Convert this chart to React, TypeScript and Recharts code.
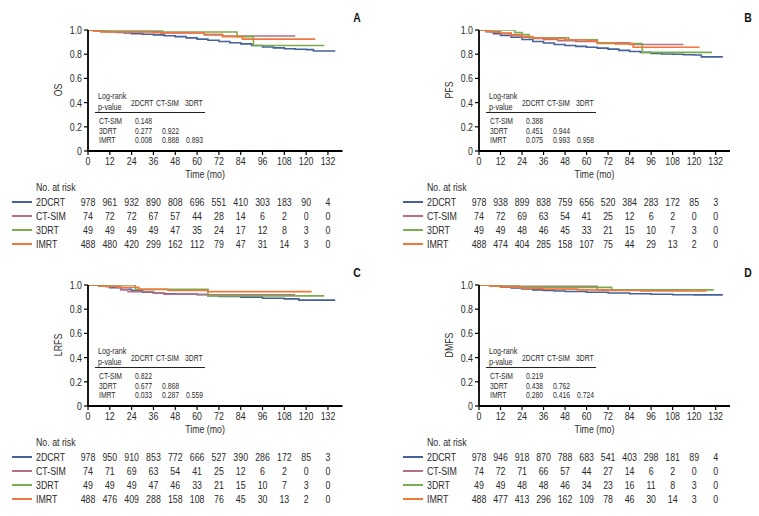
import React from 'react';
import { LineChart, Line, XAxis, YAxis } from 'recharts';

const TICKS_X = [0, 12, 24, 36, 48, 60, 72, 84, 96, 108, 120, 132];
const TICKS_Y = [0, 0.2, 0.4, 0.6, 0.8, 1.0];
const GROUPS = ['2DCRT', 'CT-SIM', '3DRT', 'IMRT'];
const COLORS = ['#46609a', '#b8707f', '#7aad4e', '#f2773c'];
const PV_HEAD = ['2DCRT', 'CT-SIM', '3DRT'];
const PV_ROWS = ['CT-SIM', '3DRT', 'IMRT'];

type P = [number, number][];

// ---- OS ----
const OS_2DCRT: P = [[0,1],[4,0.995],[8,0.99],[12,0.985],[16,0.98],[20,0.975],[24,0.97],[30,0.965],[36,0.96],[42,0.953],[48,0.945],[54,0.935],[60,0.925],[66,0.915],[72,0.905],[78,0.895],[84,0.885],[90,0.872],[96,0.86],[102,0.852],[108,0.845],[114,0.841],[120,0.838],[124,0.826],[136,0.826]];
const OS_CTSIM: P = [[0,1],[8,0.985],[40,0.975],[64,0.96],[74,0.95],[114,0.95]];
const OS_3DRT: P = [[0,1],[41,0.983],[82,0.945],[91,0.872],[130,0.872]];
const OS_IMRT: P = [[0,1],[3,0.99],[7,0.983],[36,0.977],[64,0.965],[74,0.945],[85,0.925],[125,0.925]];
const OS_RISK = [
  [978, 961, 932, 890, 808, 696, 551, 410, 303, 183, 90, 4],
  [74, 72, 72, 67, 57, 44, 28, 14, 6, 2, 0, 0],
  [49, 49, 49, 49, 47, 35, 24, 17, 12, 8, 3, 0],
  [488, 480, 420, 299, 162, 112, 79, 47, 31, 14, 3, 0],
];
const OS_P = [['0.148'], ['0.277', '0.922'], ['0.008', '0.888', '0.893']];

// ---- PFS ----
const PFS_2DCRT: P = [[0,1],[4,0.985],[8,0.97],[12,0.955],[18,0.94],[24,0.922],[30,0.905],[36,0.892],[42,0.88],[48,0.872],[54,0.865],[60,0.857],[66,0.85],[72,0.842],[78,0.832],[84,0.822],[90,0.815],[96,0.807],[102,0.802],[108,0.799],[114,0.796],[120,0.793],[124,0.778],[136,0.778]];
const PFS_CTSIM: P = [[0,1],[6,0.985],[12,0.97],[18,0.955],[24,0.94],[30,0.93],[36,0.922],[44,0.912],[54,0.905],[66,0.895],[84,0.88],[114,0.88]];
const PFS_3DRT: P = [[0,1],[20,0.978],[24,0.962],[28,0.936],[50,0.92],[66,0.888],[91,0.815],[130,0.815]];
const PFS_IMRT: P = [[0,1],[4,0.99],[8,0.982],[12,0.975],[18,0.96],[24,0.945],[30,0.935],[36,0.93],[48,0.92],[60,0.91],[66,0.895],[76,0.885],[86,0.858],[123,0.858]];
const PFS_RISK = [
  [978, 938, 899, 838, 759, 656, 520, 384, 283, 172, 85, 3],
  [74, 72, 69, 63, 54, 41, 25, 12, 6, 2, 0, 0],
  [49, 49, 48, 46, 45, 33, 21, 15, 10, 7, 3, 0],
  [488, 474, 404, 285, 158, 107, 75, 44, 29, 13, 2, 0],
];
const PFS_P = [['0.388'], ['0.451', '0.944'], ['0.075', '0.993', '0.958']];

// ---- LRFS ----
const LRFS_2DCRT: P = [[0,1],[6,0.99],[12,0.977],[18,0.965],[24,0.955],[30,0.94],[36,0.935],[42,0.928],[48,0.925],[60,0.92],[66,0.912],[72,0.905],[84,0.9],[96,0.89],[108,0.885],[116,0.875],[136,0.875]];
const LRFS_CTSIM: P = [[0,1],[10,0.985],[18,0.96],[22,0.945],[36,0.935],[42,0.923],[66,0.918],[114,0.918]];
const LRFS_3DRT: P = [[0,1],[26,0.964],[66,0.91],[130,0.91]];
const LRFS_IMRT: P = [[0,1],[6,0.99],[16,0.982],[28,0.965],[44,0.955],[66,0.945],[123,0.945]];
const LRFS_RISK = [
  [978, 950, 910, 853, 772, 666, 527, 390, 286, 172, 85, 3],
  [74, 71, 69, 63, 54, 41, 25, 12, 6, 2, 0, 0],
  [49, 49, 49, 47, 46, 33, 21, 15, 10, 7, 3, 0],
  [488, 476, 409, 288, 158, 108, 76, 45, 30, 13, 2, 0],
];
const LRFS_P = [['0.822'], ['0.677', '0.868'], ['0.033', '0.287', '0.559']];

// ---- DMFS ----
const DMFS_2DCRT: P = [[0,1],[6,0.99],[12,0.983],[18,0.975],[24,0.967],[30,0.96],[36,0.955],[42,0.95],[48,0.946],[60,0.94],[72,0.934],[84,0.928],[96,0.923],[108,0.92],[120,0.918],[136,0.918]];
const DMFS_CTSIM: P = [[0,1],[12,0.99],[66,0.958],[114,0.958]];
const DMFS_3DRT: P = [[0,1],[22,0.98],[74,0.96],[131,0.96]];
const DMFS_IMRT: P = [[0,1],[6,0.99],[12,0.983],[24,0.972],[36,0.966],[55,0.96],[72,0.955],[90,0.95],[127,0.95]];
const DMFS_RISK = [
  [978, 946, 918, 870, 788, 683, 541, 403, 298, 181, 89, 4],
  [74, 72, 71, 66, 57, 44, 27, 14, 6, 2, 0, 0],
  [49, 49, 48, 48, 46, 34, 23, 16, 11, 8, 3, 0],
  [488, 477, 413, 296, 162, 109, 78, 46, 30, 14, 3, 0],
];
const DMFS_P = [['0.219'], ['0.438', '0.762'], ['0.280', '0.416', '0.724']];

const FONT = "'Liberation Sans', Arial, sans-serif";
const TXT = '#2b2b2b';
const SX = 0.8;

const toRows = (p: P) => p.map(([t, s]) => ({ t, s }));

function T(props: any) {
  const { x, y, size = 11, anchor = 'start', fill = TXT, weight, children } = props;
  return (
    <text
      transform={`translate(${x},${y}) scale(${SX},1)`}
      x={0}
      y={0}
      fontSize={size}
      textAnchor={anchor}
      fill={fill}
      fontWeight={weight}
      fontFamily={FONT}
    >
      {children}
    </text>
  );
}

function RiskTick(props: any) {
  const { x, y, payload, risk } = props;
  const i = TICKS_X.indexOf(payload.value);
  const axisY = y - 6;
  return (
    <g>
      <T x={x} y={axisY + 14} anchor="middle">{payload.value}</T>
      {risk.map((row: number[], r: number) => (
        <T key={r} x={x} y={axisY + 55 + r * 14} anchor="middle">{row[i]}</T>
      ))}
    </g>
  );
}

function YTick(props: any) {
  const { x, y, payload } = props;
  const v = payload.value;
  return <T x={x} y={y + 4} anchor="end">{v === 0 ? '0' : v.toFixed(1)}</T>;
}

function Panel(props: any) {
  const { left, top, width, plotW, letter, ylabel, curves, risk, pvals } = props;
  const height = 255;
  const mr = width - 88 - plotW;
  const colX = [135, 162, 186];
  return (
    <div style={{ position: 'absolute', left, top, width, height }}>
      <LineChart width={width} height={height} margin={{ top: 30, right: mr, bottom: 0, left: 0 }}>
        <XAxis
          type="number"
          dataKey="t"
          domain={[0, 140]}
          ticks={TICKS_X}
          interval={0}
          height={104}
          tickSize={4}
          tickMargin={2}
          axisLine={{ stroke: '#000', strokeWidth: 1.8 }}
          tickLine={{ stroke: '#000', strokeWidth: 1.2 }}
          tick={<RiskTick risk={risk} />}
          allowDataOverflow
        />
        <YAxis
          type="number"
          domain={[0, 1]}
          ticks={TICKS_Y}
          width={88}
          tickSize={4}
          tickMargin={2}
          axisLine={{ stroke: '#000', strokeWidth: 1.8 }}
          tickLine={{ stroke: '#000', strokeWidth: 1.2 }}
          tick={<YTick />}
          allowDataOverflow
        />
        {curves.map((c: P, k: number) => (
          <Line
            key={k}
            data={toRows(c)}
            dataKey="s"
            type="stepAfter"
            stroke={COLORS[k]}
            strokeWidth={1.6}
            dot={false}
            activeDot={false}
            isAnimationActive={false}
          />
        ))}
      </LineChart>
      <svg
        width={width}
        height={height}
        style={{ position: 'absolute', left: 0, top: 0, pointerEvents: 'none' }}
      >
        <T x={357} y={22} size={13} weight="bold" anchor="middle" fill="#111">{letter}</T>
        <g transform="translate(62,90) rotate(-90)">
          <T x={0} y={0} anchor="middle">{ylabel}</T>
        </g>
        <T x={98} y={99} size={9}>Log-rank</T>
        <T x={98} y={110} size={9}>p-value</T>
        {PV_HEAD.map((h, j) => (
          <T key={h} x={[131, 156, 185][j]} y={106} size={8.5}>{h}</T>
        ))}
        <line x1={95} x2={205} y1={112.5} y2={112.5} stroke="#222" strokeWidth={1} />
        {PV_ROWS.map((rname, r) => (
          <g key={rname}>
            <T x={99} y={124 + r * 9.5} size={8.5}>{rname}</T>
            {pvals[r].map((v: string, j: number) => (
              <T key={j} x={colX[j]} y={124 + r * 9.5} size={8.5}>{v}</T>
            ))}
          </g>
        ))}
        <T x={88 + plotW * 0.46} y={178} anchor="middle">Time (mo)</T>
        <T x={36} y={191}>No. at risk</T>
        {GROUPS.map((g, k) => (
          <g key={g}>
            <line x1={12} x2={32} y1={202 + k * 14} y2={202 + k * 14} stroke={COLORS[k]} strokeWidth={2} />
            <T x={36} y={206 + k * 14}>{g}</T>
          </g>
        ))}
      </svg>
    </div>
  );
}

export default function App() {
  return (
    <div style={{ position: 'absolute', left: 0, top: 0, width: 759, height: 516, background: '#fff', fontFamily: FONT }}>
      <Panel left={0} top={0} width={379} plotW={254.5} letter="A" ylabel="OS"
        curves={[OS_2DCRT, OS_CTSIM, OS_3DRT, OS_IMRT]} risk={OS_RISK} pvals={OS_P} />
      <Panel left={391} top={0} width={368} plotW={251} letter="B" ylabel="PFS"
        curves={[PFS_2DCRT, PFS_CTSIM, PFS_3DRT, PFS_IMRT]} risk={PFS_RISK} pvals={PFS_P} />
      <Panel left={0} top={255} width={379} plotW={254.5} letter="C" ylabel="LRFS"
        curves={[LRFS_2DCRT, LRFS_CTSIM, LRFS_3DRT, LRFS_IMRT]} risk={LRFS_RISK} pvals={LRFS_P} />
      <Panel left={391} top={255} width={368} plotW={251} letter="D" ylabel="DMFS"
        curves={[DMFS_2DCRT, DMFS_CTSIM, DMFS_3DRT, DMFS_IMRT]} risk={DMFS_RISK} pvals={DMFS_P} />
    </div>
  );
}
